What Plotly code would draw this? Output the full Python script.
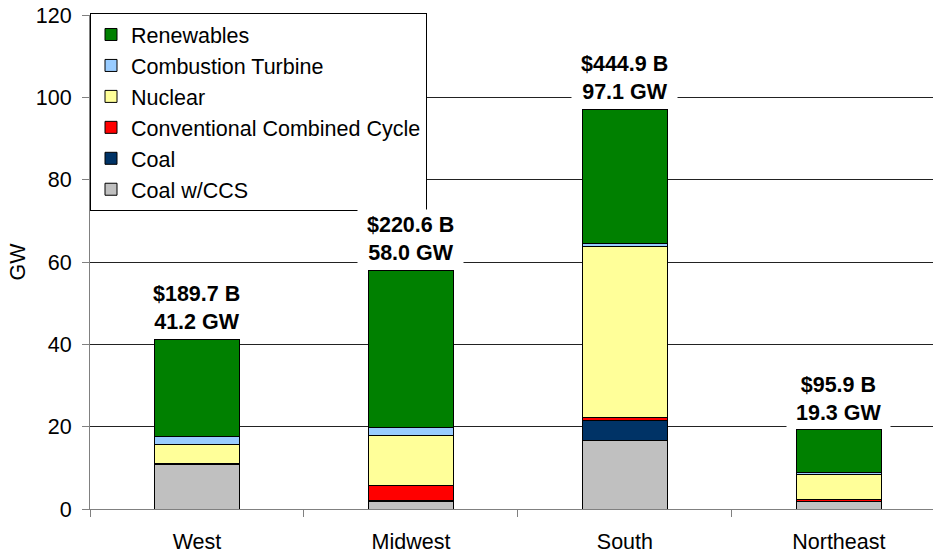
import plotly.graph_objects as go

regions = ["West", "Midwest", "South", "Northeast"]
coal_ccs = [10.7, 1.9, 16.6, 1.8]
coal = [0.1, 0.1, 4.8, 0.0]
conv_cc = [0.2, 3.8, 0.9, 0.6]
nuclear = [4.6, 12.0, 41.4, 6.0]
comb_turbine = [1.9, 2.0, 0.8, 0.4]
renewables = [23.7, 38.2, 32.6, 10.5]
totals = [41.2, 58.0, 97.1, 19.3]
costs = ["$189.7 B", "$220.6 B", "$444.9 B", "$95.9 B"]
y_ticks = [0, 20, 40, 60, 80, 100, 120]

series = [
    ("Coal w/CCS", coal_ccs, "#C0C0C0"),
    ("Coal", coal, "#003366"),
    ("Conventional Combined Cycle", conv_cc, "#FF0000"),
    ("Nuclear", nuclear, "#FFFF99"),
    ("Combustion Turbine", comb_turbine, "#99CCFF"),
    ("Renewables", renewables, "#008000"),
]

FONT = "Liberation Sans, Arial, sans-serif"
FS = 21.5

fig = go.Figure()
n = len(series)
for i, (name, vals, color) in enumerate(series):
    fig.add_trace(go.Bar(
        x=regions, y=vals, name=name, width=0.4,
        marker=dict(color=color, line=dict(color="black", width=1)),
        legendgroup=name, legendrank=100 * (n - i),
    ))

for r, t, c in zip(regions, totals, costs):
    fig.add_annotation(
        x=r, y=t, xref="x", yref="y", yanchor="bottom", yshift=1,
        text=f"<b>&nbsp;{c}&nbsp;<br>&nbsp;{t:.1f} GW&nbsp;</b>", showarrow=False,
        bgcolor="white", borderpad=3,
        font=dict(family=FONT, size=FS, color="black"),
    )

fig.update_layout(
    barmode="stack",
    width=933, height=554,
    margin=dict(l=90, r=0, t=15, b=43),
    paper_bgcolor="white", plot_bgcolor="white",
    font=dict(family=FONT, size=FS, color="black"),
    legend=dict(
        x=0, y=1.004, xanchor="left", yanchor="top",
        traceorder="grouped", tracegroupgap=0,
        bgcolor="white", bordercolor="black", borderwidth=1,
        font=dict(family=FONT, size=FS, color="black"),
    ),
    xaxis=dict(
        range=[-0.5, 3.44], showline=True, linecolor="#808080", linewidth=1,
        ticks="outside", tickson="boundaries", ticklen=7, tickcolor="#808080",
        showgrid=False, ticklabelstandoff=13,
    ),
    yaxis=dict(
        range=[0, 120], tickvals=y_ticks,
        showline=True, linecolor="#808080", linewidth=1,
        ticks="outside", ticklen=7, tickcolor="#808080",
        showgrid=True, gridcolor="#222222", gridwidth=1,
        zeroline=False, ticklabelstandoff=6, ticklabeloverflow="allow",
        automargin=False,
        title=dict(text="GW", standoff=4, font=dict(family=FONT, size=FS)),
    ),
)

# remove the default 8px page margin so the figure fills the window exactly
fig.write_html(
    "out.html",
    config={"displayModeBar": False},
    post_script="document.body.style.margin='0px';",
)
